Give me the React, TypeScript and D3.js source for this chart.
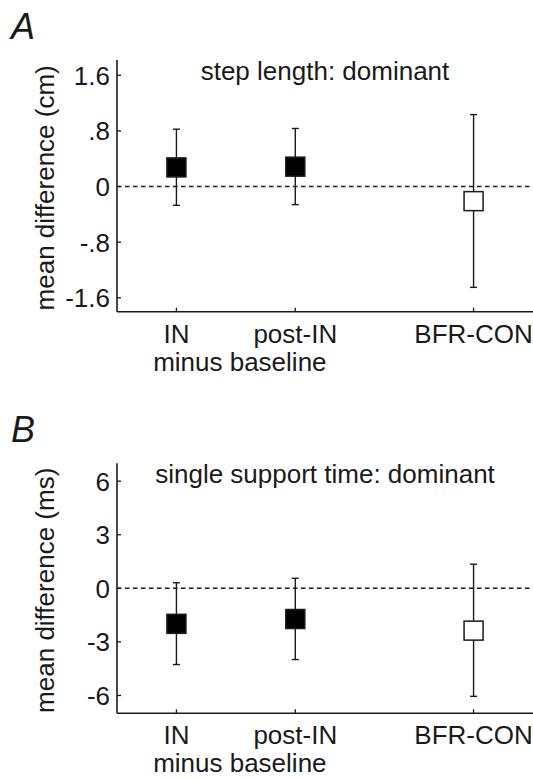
import React from "react";
import * as d3 from "d3";

const categories = ["IN", "post-IN", "BFR-CON"];
const categoryPos = [1, 2, 3.5];
const filled = [true, true, false];
const groupLabel = "minus baseline";

const stepMean = [0.275, 0.286, -0.21];
const stepLow = [-0.27, -0.26, -1.45];
const stepHigh = [0.825, 0.835, 1.035];
const stepTicks = [1.6, 0.8, 0, -0.8, -1.6];
const stepTickLabels = ["1.6", ".8", "0", "-.8", "-1.6"];

const sstMean = [-1.99, -1.72, -2.37];
const sstLow = [-4.27, -3.99, -6.05];
const sstHigh = [0.31, 0.56, 1.35];
const sstTicks = [6, 3, 0, -3, -6];
const sstTickLabels = ["6", "3", "0", "-3", "-6"];

const FONT = "'Liberation Sans', Arial, Helvetica, sans-serif";
const INK = "#1a1a1a";
const FS = 26;

type PanelProps = {
  letter: string;
  title: string;
  yLabel: string;
  mean: number[];
  low: number[];
  high: number[];
  ticks: number[];
  tickLabels: string[];
  domain: [number, number];
  top: number;
  bottom: number;
};

function Panel(p: PanelProps) {
  const x = d3.scaleLinear().domain([0.5, 4]).range([117, 533]);
  const y = d3.scaleLinear().domain(p.domain).range([p.bottom, p.top]);
  const x0 = x(0.5);
  const x1 = x(4);
  const sq = 19;
  return (
    <g>
      <text x={11} y={p.top - 21} fontSize={36} fontStyle="italic" fontFamily={FONT} fill={INK}>
        {p.letter}
      </text>
      <text x={325} y={p.top + 20} fontSize={FS} fontFamily={FONT} textAnchor="middle" fill={INK}>
        {p.title}
      </text>
      <line x1={x0} x2={x1} y1={y(0)} y2={y(0)} stroke={INK} strokeWidth={1.4} strokeDasharray="4.5,3.5" />
      <line x1={x0} x2={x0} y1={p.top} y2={p.bottom} stroke={INK} strokeWidth={1.6} />
      <line x1={x0} x2={x1} y1={p.bottom} y2={p.bottom} stroke={INK} strokeWidth={1.6} />
      {p.ticks.map((t, i) => (
        <g key={"t" + i}>
          <line x1={x0} x2={x0 + 4} y1={y(t)} y2={y(t)} stroke={INK} strokeWidth={1.3} />
          <text x={110} y={y(t)} dy="0.36em" fontSize={FS} fontFamily={FONT} textAnchor="end" fill={INK}>
            {p.tickLabels[i]}
          </text>
        </g>
      ))}
      <text
        transform={`translate(54,${(p.top + p.bottom) / 2 + 2}) rotate(-90)`}
        fontSize={FS}
        fontFamily={FONT}
        textAnchor="middle"
        fill={INK}
      >
        {p.yLabel}
      </text>
      {categories.map((c, i) => (
        <g key={"c" + i}>
          <line x1={x(categoryPos[i])} x2={x(categoryPos[i])} y1={p.bottom} y2={p.bottom - 4} stroke={INK} strokeWidth={1.3} />
          <text x={x(categoryPos[i])} y={p.bottom + 31} fontSize={FS} fontFamily={FONT} textAnchor="middle" fill={INK}>
            {c}
          </text>
        </g>
      ))}
      <text
        x={(x(categoryPos[0]) + x(categoryPos[1])) / 2 + 4}
        y={p.bottom + 59}
        fontSize={FS}
        fontFamily={FONT}
        textAnchor="middle"
        fill={INK}
      >
        {groupLabel}
      </text>
      {categories.map((c, i) => {
        const cx = x(categoryPos[i]);
        return (
          <g key={"m" + i}>
            <line x1={cx} x2={cx} y1={y(p.low[i])} y2={y(p.high[i])} stroke={INK} strokeWidth={1.4} />
            <line x1={cx - 3.5} x2={cx + 3.5} y1={y(p.low[i])} y2={y(p.low[i])} stroke={INK} strokeWidth={1.4} />
            <line x1={cx - 3.5} x2={cx + 3.5} y1={y(p.high[i])} y2={y(p.high[i])} stroke={INK} strokeWidth={1.4} />
            <rect
              x={cx - sq / 2}
              y={y(p.mean[i]) - sq / 2}
              width={sq}
              height={sq}
              fill={filled[i] ? "#000" : "#fff"}
              stroke={INK}
              strokeWidth={1.5}
            />
          </g>
        );
      })}
    </g>
  );
}

export default function App() {
  return (
    <svg
      width={533}
      height={779}
      style={{ position: "absolute", left: 0, top: 0, background: "#fff" }}
    >
      <rect width={533} height={779} fill="#fff" />
      <Panel
        letter="A"
        title="step length: dominant"
        yLabel="mean difference (cm)"
        mean={stepMean}
        low={stepLow}
        high={stepHigh}
        ticks={stepTicks}
        tickLabels={stepTickLabels}
        domain={[-1.8, 1.82]}
        top={60}
        bottom={311.7}
      />
      <Panel
        letter="B"
        title="single support time: dominant"
        yLabel="mean difference (ms)"
        mean={sstMean}
        low={sstLow}
        high={sstHigh}
        ticks={sstTicks}
        tickLabels={sstTickLabels}
        domain={[-7, 7]}
        top={463.3}
        bottom={713.3}
      />
    </svg>
  );
}
